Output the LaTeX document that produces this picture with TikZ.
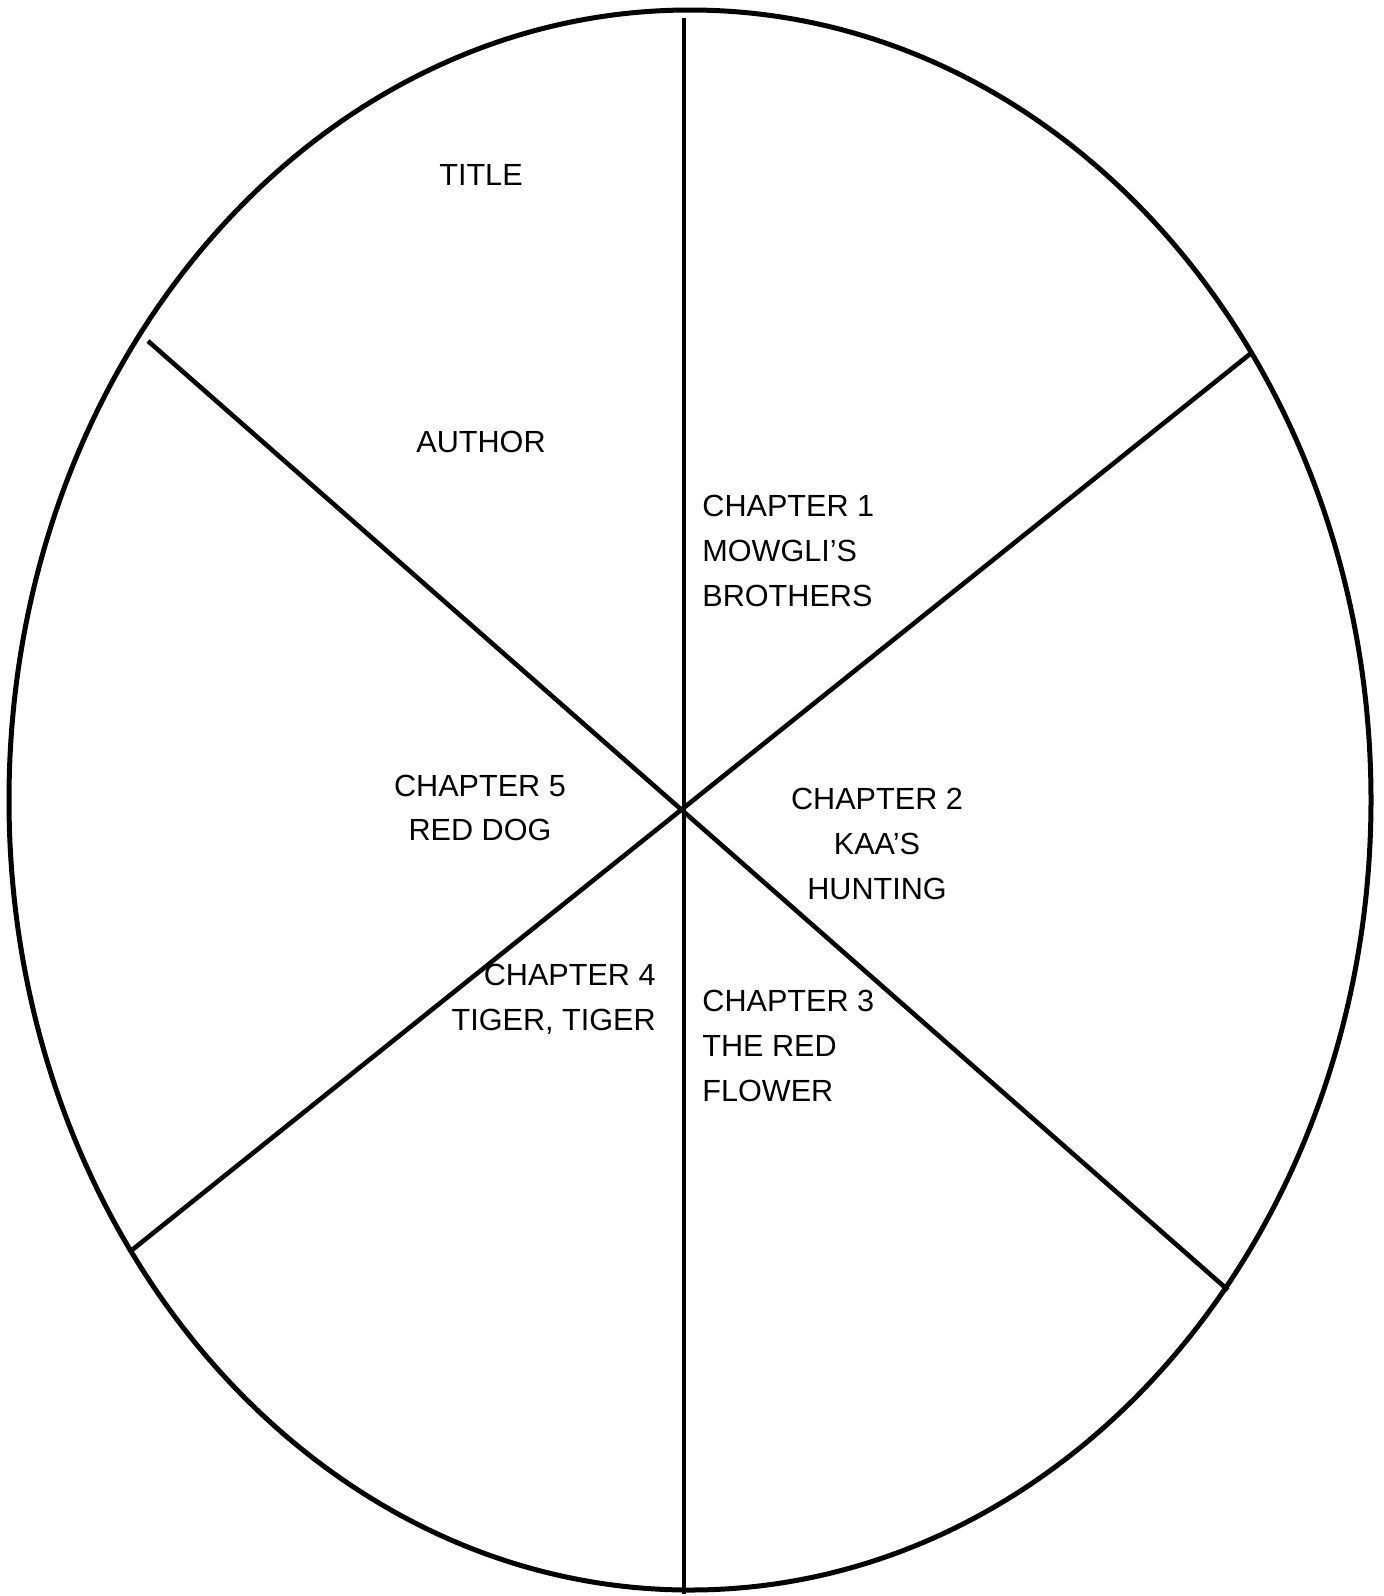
\documentclass[tikz,border=0pt]{standalone}
\usepackage{fontspec}
\setmainfont{Liberation Sans}
\usepackage{tikz}

\begin{document}
\begin{tikzpicture}[
    x=0.5pt, y=-0.5pt,
    rim/.style={line width=2.5pt},
    spoke/.style={line width=2.3pt},
    label/.style={inner sep=0pt, font=\fontsize{15.3}{22.3}\selectfont},
  ]
    \useasboundingbox (0,0) rectangle (1383,1596);
    % outer ring
    \draw[rim] (690,800) ellipse [x radius=681, y radius=790];
    % spokes
    \coordinate (hub) at (684,809);
    \coordinate (top) at (684,18);
    \coordinate (bottom) at (684,1594);
    \coordinate (ul) at (148,341);
    \coordinate (lr) at (1228,1290);
    \coordinate (ll) at (132,1250);
    \coordinate (ur) at (1250,354);
    \draw[spoke] (top) -- (bottom);
    \draw[spoke] (ul) -- (lr);
    \draw[spoke] (ll) -- (ur);
    % labels
    \node[label] (title) at (481,175) {TITLE};
    \node[label] (author) at (481,442) {AUTHOR};
    \node[label, anchor=west, align=left] (ch1) at (702,551) {CHAPTER 1\\MOWGLI'S\\BROTHERS};
    \node[label, align=center] (ch2) at (877,844) {CHAPTER 2\\KAA'S\\HUNTING};
    \node[label, anchor=west, align=left] (ch3) at (702,1046) {CHAPTER 3\\THE RED\\FLOWER};
    \node[label, anchor=east, align=right] (ch4) at (656,999) {CHAPTER 4\\TIGER, TIGER};
    \node[label, align=center] (ch5) at (480,808) {CHAPTER 5\\RED DOG};
  \end{tikzpicture}
\end{document}
